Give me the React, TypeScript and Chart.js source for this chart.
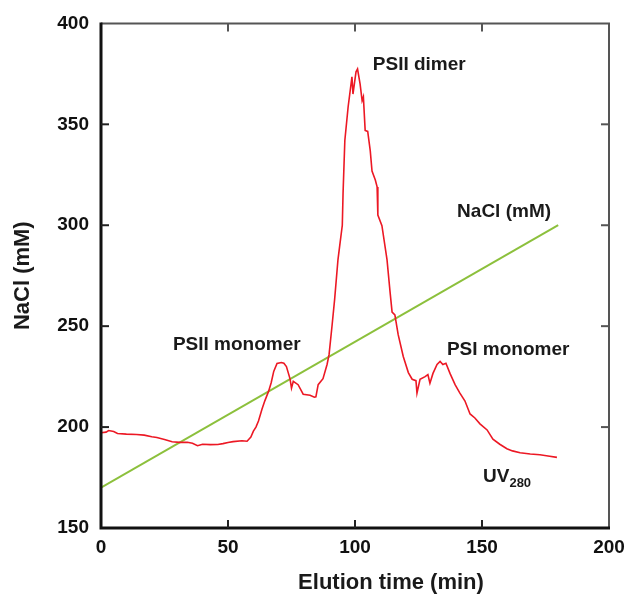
import React, { useEffect, useRef } from "react";
import { Chart, registerables } from "chart.js";

Chart.register(...registerables);

// UV280 trace (elution time in min, plotted on NaCl scale)
const uvTime = [
  0, 2, 3, 5, 6.5, 10, 14, 17, 20, 22, 25, 28, 31, 34, 36, 38, 40, 43, 46, 48,
  50, 52, 55.5, 57.5, 59, 60, 61, 62, 63.4, 64.5, 66, 67, 68, 69.3, 71, 72, 73,
  74.4, 75, 75.7, 77.6, 79.6, 82.3, 84, 84.6, 85.5, 87.4, 89, 89.8, 91, 92, 93.3,
  94, 95, 95.3, 96, 97.3, 98.8, 99.2, 100.4, 101, 102, 102.8, 103.3, 104, 105,
  106, 106.7, 108, 108.7, 109, 110.6, 112.6, 113.8, 114.6, 115.7, 117, 119, 121,
  122.5, 124, 124.4, 125.6, 127.6, 128.7, 129.5, 130.7, 132.3, 133.5, 134.6,
  135.8, 137.4, 139.4, 141.3, 143.3, 145.3, 147.2, 149.2, 152, 154.3, 157, 159.8,
  162, 165, 169, 172.8, 176, 179.5,
];
const uvValue = [
  197.2, 197.5, 198.3, 197.8, 196.8, 196.5, 196.3, 196, 195.2, 194.8, 193.8,
  192.7, 192.4, 192.5, 192, 190.8, 191.5, 191.3, 191.4, 191.8, 192.4, 192.8,
  193.2, 193, 195, 198, 200, 203, 209, 213, 217.8, 222, 227.6, 231.5, 232, 231.6,
  230, 224, 219.3, 222.7, 221, 216.3, 215.8, 214.8, 215, 221, 224, 231, 236,
  250.7, 263.5, 283, 290, 300, 316, 342, 358.7, 373.5, 365, 376, 377.4, 370,
  361.7, 363.6, 347, 346.5, 337, 326.8, 322.4, 319, 305, 299.8, 283, 267, 257,
  255.6, 245.8, 235, 227, 223.7, 223, 216.8, 223.7, 225, 226, 221.7, 226.6, 231,
  232.5, 231, 231.6, 226.6, 221, 216.8, 212.9, 206.5, 204.5, 201.6, 198.6, 194,
  191.5, 189.3, 188.2, 187.3, 186.7, 186.3, 185.7, 185,
];

// NaCl gradient
const naclTime = [0, 180];
const naclValue = [170, 300];

// Axes
const xMin = 0;
const xMax = 200;
const yMin = 150;
const yMax = 400;
const xTickValues = [0, 50, 100, 150, 200];
const yTickValues = [150, 200, 250, 300, 350, 400];

// Annotation labels (anchored in data coordinates: left edge, vertical centre)
const labelTexts = ["PSII dimer", "NaCl (mM)", "PSII monomer", "PSI monomer"];
const labelX = [107, 140.2, 28.3, 136.2];
const labelY = [379.4, 306.7, 240.9, 238.4];
const uvLabel = { main: "UV", sub: "280", x: 150.4, y: 175.5 };

const xTitle = "Elution time (min)";
const yTitle = "NaCl (mM)";

const FONT = "'Liberation Sans', Arial, sans-serif";

const framePlugin = {
  id: "frameAndLabels",
  afterDraw(chart: any) {
    const { ctx, chartArea, scales } = chart;
    const { left, right, top, bottom } = chartArea;
    const xs = scales.x;
    const ys = scales.y;
    ctx.save();

    // top & right (grey, thinner)
    ctx.strokeStyle = "#555";
    ctx.lineWidth = 2;
    ctx.beginPath();
    ctx.moveTo(left, top);
    ctx.lineTo(right, top);
    ctx.lineTo(right, bottom);
    ctx.stroke();

    // left & bottom (black, thicker)
    ctx.strokeStyle = "#111";
    ctx.lineWidth = 3;
    ctx.beginPath();
    ctx.moveTo(left, top - 1);
    ctx.lineTo(left, bottom);
    ctx.lineTo(right + 1, bottom);
    ctx.stroke();

    // inward ticks
    const tl = 8;
    ctx.lineWidth = 2;
    xTickValues.forEach((v) => {
      if (v === xMin || v === xMax) return;
      const px = xs.getPixelForValue(v);
      ctx.strokeStyle = "#222";
      ctx.beginPath();
      ctx.moveTo(px, bottom);
      ctx.lineTo(px, bottom - tl);
      ctx.stroke();
      ctx.strokeStyle = "#555";
      ctx.beginPath();
      ctx.moveTo(px, top);
      ctx.lineTo(px, top + tl);
      ctx.stroke();
    });
    yTickValues.forEach((v) => {
      if (v === yMin || v === yMax) return;
      const py = ys.getPixelForValue(v);
      ctx.strokeStyle = "#222";
      ctx.beginPath();
      ctx.moveTo(left, py);
      ctx.lineTo(left + tl, py);
      ctx.stroke();
      ctx.strokeStyle = "#555";
      ctx.beginPath();
      ctx.moveTo(right, py);
      ctx.lineTo(right - tl, py);
      ctx.stroke();
    });

    // annotation labels
    ctx.fillStyle = "#1a1a1a";
    ctx.textBaseline = "middle";
    ctx.textAlign = "left";
    ctx.font = `bold 19px ${FONT}`;
    labelTexts.forEach((t, i) => {
      ctx.fillText(t, xs.getPixelForValue(labelX[i]), ys.getPixelForValue(labelY[i]));
    });
    const ux = xs.getPixelForValue(uvLabel.x);
    const uy = ys.getPixelForValue(uvLabel.y);
    ctx.fillText(uvLabel.main, ux, uy);
    const w = ctx.measureText(uvLabel.main).width;
    ctx.font = `bold 13px ${FONT}`;
    ctx.fillText(uvLabel.sub, ux + w, uy + 7);

    // axis titles
    ctx.font = `bold 22px ${FONT}`;
    ctx.textAlign = "center";
    ctx.fillText(xTitle, 391, 583);
    ctx.translate(23, (top + bottom) / 2);
    ctx.rotate(-Math.PI / 2);
    ctx.fillText(yTitle, 0, 0);
    ctx.restore();
  },
};

export default function App() {
  const canvasRef = useRef<HTMLCanvasElement | null>(null);

  useEffect(() => {
    document.body.style.margin = "0";
    const canvas = canvasRef.current;
    if (!canvas) return;
    const chart = new Chart(canvas, {
      type: "line",
      data: {
        datasets: [
          {
            label: "UV280",
            data: uvTime.map((t, i) => ({ x: t, y: uvValue[i] })),
            borderColor: "rgb(236,24,36)",
            borderWidth: 1.6,
            pointRadius: 0,
            tension: 0,
            fill: false,
          },
          {
            label: "NaCl (mM)",
            data: naclTime.map((t, i) => ({ x: t, y: naclValue[i] })),
            borderColor: "rgb(140,192,60)",
            borderWidth: 2,
            pointRadius: 0,
            tension: 0,
            fill: false,
          },
        ],
      },
      options: {
        animation: false,
        responsive: true,
        maintainAspectRatio: false,
        layout: { padding: { top: 19, right: 24, left: 0, bottom: 0 } },
        plugins: {
          legend: { display: false },
          title: { display: false },
          tooltip: { enabled: false },
        },
        scales: {
          x: {
            type: "linear",
            min: xMin,
            max: xMax,
            afterFit: (s: any) => {
              s.height = 67;
            },
            afterBuildTicks: (s: any) => {
              s.ticks = xTickValues.map((v) => ({ value: v }));
            },
            grid: { display: false, drawTicks: false },
            border: { display: false },
            ticks: {
              padding: 8,
              color: "#111",
              font: { family: FONT, size: 19, weight: "bold" },
              maxRotation: 0,
            },
          },
          y: {
            type: "linear",
            min: yMin,
            max: yMax,
            afterFit: (s: any) => {
              s.width = 101;
            },
            afterBuildTicks: (s: any) => {
              s.ticks = yTickValues.map((v) => ({ value: v }));
            },
            grid: { display: false, drawTicks: false },
            border: { display: false },
            ticks: {
              padding: 12,
              color: "#111",
              font: { family: FONT, size: 19, weight: "bold" },
            },
          },
        },
      },
      plugins: [framePlugin],
    } as any);
    return () => chart.destroy();
  }, []);

  return (
    <div style={{ position: "absolute", left: 0, top: 0, width: 633, height: 595, background: "#fff" }}>
      <canvas ref={canvasRef} />
    </div>
  );
}
